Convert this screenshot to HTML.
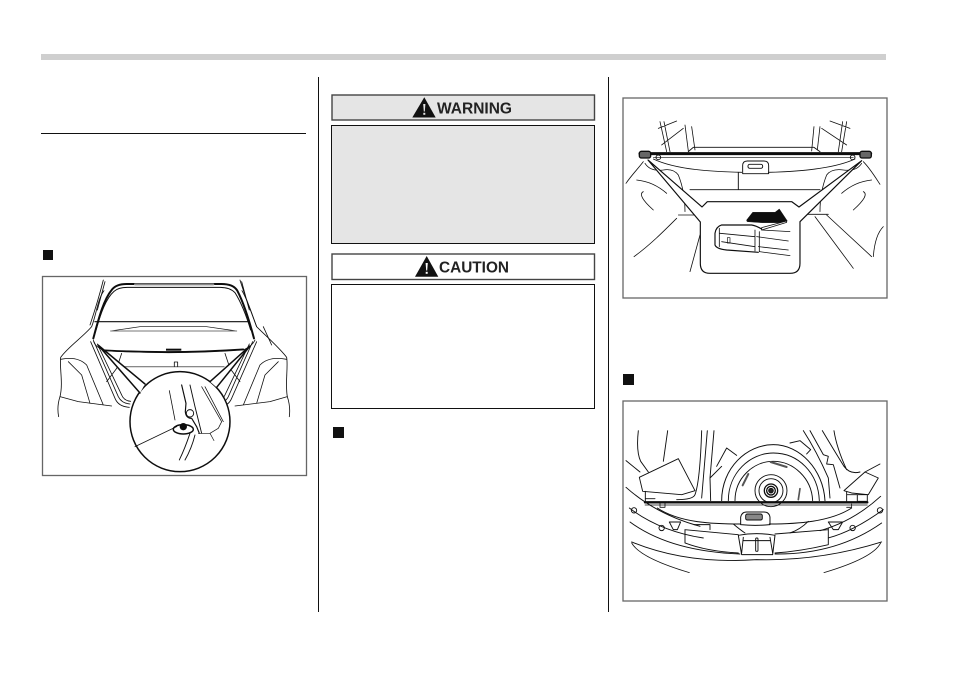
<!DOCTYPE html>
<html>
<head>
<meta charset="utf-8">
<style>
html,body{margin:0;padding:0;background:#fff}
svg{display:block}
text{font-family:"Liberation Sans",Arial,sans-serif;font-weight:bold}
</style>
</head>
<body>
<svg width="954" height="675" viewBox="0 0 954 675" xmlns="http://www.w3.org/2000/svg">
<defs><filter id="b" x="-5%" y="-5%" width="110%" height="110%"><feGaussianBlur stdDeviation="0.3"/></filter></defs>
<rect width="954" height="675" fill="#fff"/>
<rect x="41" y="54" width="845" height="6" fill="#cfcfcf"/>
<rect x="41" y="133" width="265" height="1" fill="#111"/>
<rect x="318" y="77" width="1" height="535" fill="#111"/>
<rect x="608" y="77" width="1" height="535" fill="#111"/>
<rect x="43" y="250" width="10" height="10" fill="#111"/>
<rect x="333" y="427" width="11" height="11" fill="#111"/>
<rect x="623" y="374" width="11" height="11" fill="#111"/>

<!-- warning -->
<rect x="332" y="95" width="262.500" height="25" fill="#e5e5e5" stroke="#444" stroke-width="1.400"/>
<rect x="331.500" y="125.500" width="263" height="118" fill="#e5e5e5" stroke="#111" stroke-width="1"/>
<path d="M424.300 97.300L435.700 117.500H412.300Z" fill="#111"/>
<path d="M423.200 104H425.400L424.800 111.500H423.800Z" fill="#e5e5e5"/>
<rect x="423.300" y="112.800" width="2" height="2" fill="#e5e5e5"/>
<text x="437" y="113.500" font-size="16" fill="#222" textLength="75" lengthAdjust="spacingAndGlyphs">WARNING</text>
<!-- caution -->
<rect x="332" y="254" width="262.500" height="25.500" fill="#fff" stroke="#444" stroke-width="1.400"/>
<rect x="331.500" y="284.500" width="263" height="124" fill="#fff" stroke="#111" stroke-width="1"/>
<path d="M426.700 256L438.300 276.700H415Z" fill="#111"/>
<path d="M425.600 263H427.800L427.200 270.500H426.200Z" fill="#fff"/>
<rect x="425.700" y="271.800" width="2" height="2" fill="#fff"/>
<text x="439" y="272.700" font-size="16" fill="#222" textLength="70" lengthAdjust="spacingAndGlyphs">CAUTION</text>

<!-- panel frames -->
<rect x="42.500" y="276.500" width="264" height="199" fill="#fff" stroke="#666" stroke-width="1.300"/>
<rect x="623" y="98" width="264" height="200" fill="#fff" stroke="#666" stroke-width="1.300"/>
<rect x="623" y="401" width="264" height="200" fill="#fff" stroke="#666" stroke-width="1.300"/>

<!-- panel 1 -->
<g filter="url(#b)"><g transform="translate(40,270) scale(0.3333)" fill="none" stroke="#111" stroke-width="3" stroke-linejoin="round" stroke-linecap="round">
<path d="M160 205C175 150 190 90 215 60Q228 42 260 42H545Q580 42 592 62C612 100 630 160 642 205" stroke-width="6"/>
<path d="M168 180C182 130 198 85 222 64Q235 52 262 52H540Q570 52 585 68C605 100 620 140 632 180" stroke-width="3"/>
<path d="M285 43H520" stroke="#888" stroke-width="6"/>
<path d="M165 155H622" stroke-width="3.500"/>
<path d="M212 183L300 170H500L590 183Z" stroke-width="2"/>
<path d="M212 183H590" stroke="#777" stroke-width="3"/>
<path d="M160 210C162 225 175 235 195 242Q400 255 610 240C628 232 640 222 645 210" stroke-width="2.500"/>
<path d="M195 241Q400 252 610 238" stroke-width="5"/>
<rect x="378" y="236" width="46" height="6" fill="#111" stroke="none"/>
<path d="M192 62C172 90 170 130 155 170C130 200 85 230 62 262C58 290 70 340 60 380Q50 410 56 440" stroke-width="2.500"/>
<path d="M606 62C625 95 635 130 650 170C680 200 720 235 740 262C745 290 735 340 742 380Q752 410 748 440" stroke-width="2.500"/>
<path d="M190 30C180 70 165 120 150 165M172 120L195 35" stroke-width="2.500"/>
<path d="M600 30C612 70 635 130 650 170M628 120L605 35M670 170L695 225" stroke-width="2.500"/>
<path d="M62 268C100 260 125 270 140 285L190 405M85 275L125 315L150 400M60 380L115 395L215 408" stroke-width="2.400"/>
<path d="M740 268C700 260 675 270 660 285L610 405M715 275L675 315L650 400M742 380L690 395L585 408" stroke-width="2.400"/>
<path d="M152 215L225 385Q235 410 268 412M162 215L235 380Q245 400 270 402M172 222L245 375Q252 392 272 394" stroke-width="2.500"/>
<path d="M650 215L575 385Q565 410 532 412M638 215L565 380Q555 400 530 402M628 222L555 375Q548 392 528 394" stroke-width="2.500"/>
<path d="M245 250L230 295L200 335M555 250L570 295L600 335" stroke-width="2.400"/>
<path d="M250 290H552" stroke="#777" stroke-width="3.500"/>
<path d="M403 290V276H413V290" stroke-width="2.500"/>
<circle cx="420" cy="455" r="150" fill="#fff" stroke-width="4.500"/>
<path d="M174 225L315 342L300 369Z" fill="#fff" stroke="none"/>
<path d="M630 228L510 335L530 352Z" fill="#fff" stroke="none"/>
<path d="M315 342L174 225L300 369M510 335L630 228L530 352" stroke-width="4.500"/>
<path d="M388 362L405 450M285 530L410 470" stroke-width="2.400"/>
<path d="M485 350L545 455L535 475L510 490H475M495 350L550 455" stroke-width="2.200"/>
<path d="M425 345L438 400L436 425Q438 445 455 445L470 470L478 490" stroke-width="3.500"/>
<path d="M450 345L465 410L480 470L485 490" stroke-width="2.800"/>
<circle cx="450" cy="430" r="11" stroke-width="2.800"/>
<ellipse cx="430" cy="478" rx="30" ry="14" stroke-width="4.500"/>
<circle cx="430" cy="470" r="11" fill="#111" stroke="none"/>
<path d="M450 490Q435 535 418 570M465 495Q455 535 435 570" stroke-width="2.800"/>
<path d="M510 490L522 512" stroke-width="2"/>
</g></g>

<!-- panel 2 -->
<g filter="url(#b)"><g transform="translate(620,95) scale(0.3333)" fill="none" stroke="#111" stroke-width="2.800" stroke-linejoin="round" stroke-linecap="round">
<path d="M60 176H752" stroke-width="9"/>
<path d="M100 187H700" stroke-width="2"/>
<rect x="58" y="169" width="34" height="20" rx="6" fill="#666" stroke-width="4"/>
<rect x="720" y="169" width="34" height="20" rx="6" fill="#666" stroke-width="4"/>
<circle cx="115" cy="187" r="7"/><circle cx="698" cy="187" r="7"/>
<path d="M205 170L220 157H582L600 170"/>
<path d="M100 192C170 225 280 230 365 232M445 232C530 230 640 222 705 192" stroke-width="2.400"/>
<path d="M368 236V212Q368 198 382 198H432Q446 198 446 212V236Z" stroke-width="2.800"/>
<rect x="384" y="208" width="44" height="12" rx="5"/>
<path d="M355 232V282M210 284H600"/>
<path d="M120 80L140 170M132 80L150 170M115 100L170 78M125 150L190 100M195 90L205 168M215 95L225 165" stroke-width="2.400"/>
<path d="M680 80L665 170M668 80L655 170M690 100L630 78M680 150L605 100M582 95L575 168M600 95L592 165" stroke-width="2.400"/>
<path d="M70 200C55 220 35 240 18 265M50 255Q100 260 140 295M75 205Q90 230 130 225Q160 220 175 240Q195 290 195 350M175 360H240M100 345Q50 300 70 290" stroke-width="2.400"/>
<path d="M730 200C750 220 765 245 780 268M755 255Q705 260 665 295M725 205Q710 230 670 225Q635 220 620 240Q600 290 600 350M540 358H625M700 345Q750 300 730 290" stroke-width="2.400"/>
<path d="M42 485C90 450 130 410 170 370M210 530L240 420M700 520L585 365M620 360L755 485M760 485Q765 420 790 395" stroke-width="2.400"/>
<path d="M84 195L241 381V505Q241 535 270 535H510Q540 535 540 505V380L725 197L537 336L515 320H262L246 336Z" fill="#fff" stroke-width="3.500"/>
<path d="M380 375L398 352H465L478 342L502 378L490 383H425L382 380Z" fill="#111" stroke-width="1.500"/>
<path d="M425 405L500 382V378L425 398Z" fill="#fff" stroke-width="2.400"/>
<path d="M425 402Q408 392 395 390H305Q288 395 285 415V450Q290 462 320 465L415 472" stroke-width="3.500"/>
<path d="M298 400V455M300 415L405 425M305 440L405 455M405 405L405 468M418 410V470" stroke-width="2.500"/>
<path d="M425 405L510 410M410 425L505 438M415 455L505 465M418 470L510 482" stroke-width="2.400"/>
<rect x="322" y="428" width="8" height="16" stroke-width="2"/>
</g></g>

<!-- panel 3 -->
<g filter="url(#b)"><g transform="translate(620,398) scale(0.3333)" fill="none" stroke="#111" stroke-width="2.800" stroke-linejoin="round" stroke-linecap="round">
<path d="M305 308C305 210 380 140 460 140C540 140 610 215 615 308" stroke-width="3"/>
<path d="M325 308C325 225 390 165 460 165C535 165 595 225 598 308M345 308C345 240 400 190 460 190C520 190 575 240 578 308"/>
<path d="M290 205L320 150L350 172M510 135L540 128L572 155L560 168"/>
<circle cx="453" cy="278" r="48"/><circle cx="453" cy="278" r="36"/>
<circle cx="453" cy="278" r="20" stroke-width="4"/><circle cx="453" cy="278" r="13" stroke-width="4"/><circle cx="453" cy="278" r="7" fill="#222"/>
<path d="M452 192L500 207" stroke-width="6" stroke="#555"/>
<path d="M385 228L368 262" stroke-width="6" stroke="#555"/>
<path d="M540 272L535 305" stroke-width="5" stroke="#555"/>
<path d="M55 98Q48 160 62 190L85 222M143 98L130 190M18 188L60 222"/>
<path d="M58 238L175 182L225 278L185 290L68 280Z" fill="#fff"/>
<path d="M245 98Q240 250 225 290Q220 305 170 305M262 98L245 300M282 98L270 240L305 205M270 240L272 308"/>
<path d="M550 98Q590 160 625 240L630 300M570 98L610 170L625 175L620 198L640 200L660 270M607 98Q650 170 672 205Q690 230 720 222M642 98Q650 150 680 215"/>
<path d="M672 278L735 222L775 240L745 290L695 285ZM735 222L780 198" fill="#fff"/>
<path d="M76 280V312M105 302H76M680 282V310M712 290V310H742V290H680"/>
<path d="M75 313H742" stroke-width="7"/>
<path d="M120 312V328H135V316M680 328H695V318" stroke-width="2.400"/>
<path d="M75 321H742" stroke-width="2"/>
<path d="M112 330C180 375 280 378 362 378M448 378C530 378 630 372 695 330"/>
<path d="M362 380V358Q365 342 380 342H432Q448 342 450 358V380Q405 384 362 380Z" stroke-width="3"/>
<rect x="377" y="348" width="50" height="18" rx="5" fill="#888"/>
<path d="M340 378Q360 395 375 405M565 370Q540 395 510 405"/>
<path d="M18 268Q110 350 240 385M28 330Q120 400 250 420M30 372Q150 460 360 468M782 295Q700 370 600 398M790 335Q700 400 625 420M785 375Q650 470 465 468M35 432Q200 500 410 485Q600 490 785 432"/>
<circle cx="42" cy="337" r="8"/><circle cx="125" cy="390" r="8"/><circle cx="780" cy="337" r="8"/><circle cx="698" cy="390" r="8"/>
<path d="M148 372H182L172 395H160ZM625 372H668L655 395H640Z"/>
<path d="M195 395V435Q260 460 355 465M625 390V440Q540 460 465 465M195 395L355 410M625 395L465 408M222 380H270V395"/>
<path d="M355 412L365 470H458L465 412Q410 402 355 412Z" stroke-width="3"/>
<path d="M370 418L365 465M450 418L458 465M370 428H450"/>
<rect x="407" y="420" width="7" height="40" rx="3"/>
<path d="M35 435Q60 480 208 524M782 435Q760 480 612 524" stroke-width="2.400"/>
</g></g>
</svg>
</body>
</html>
